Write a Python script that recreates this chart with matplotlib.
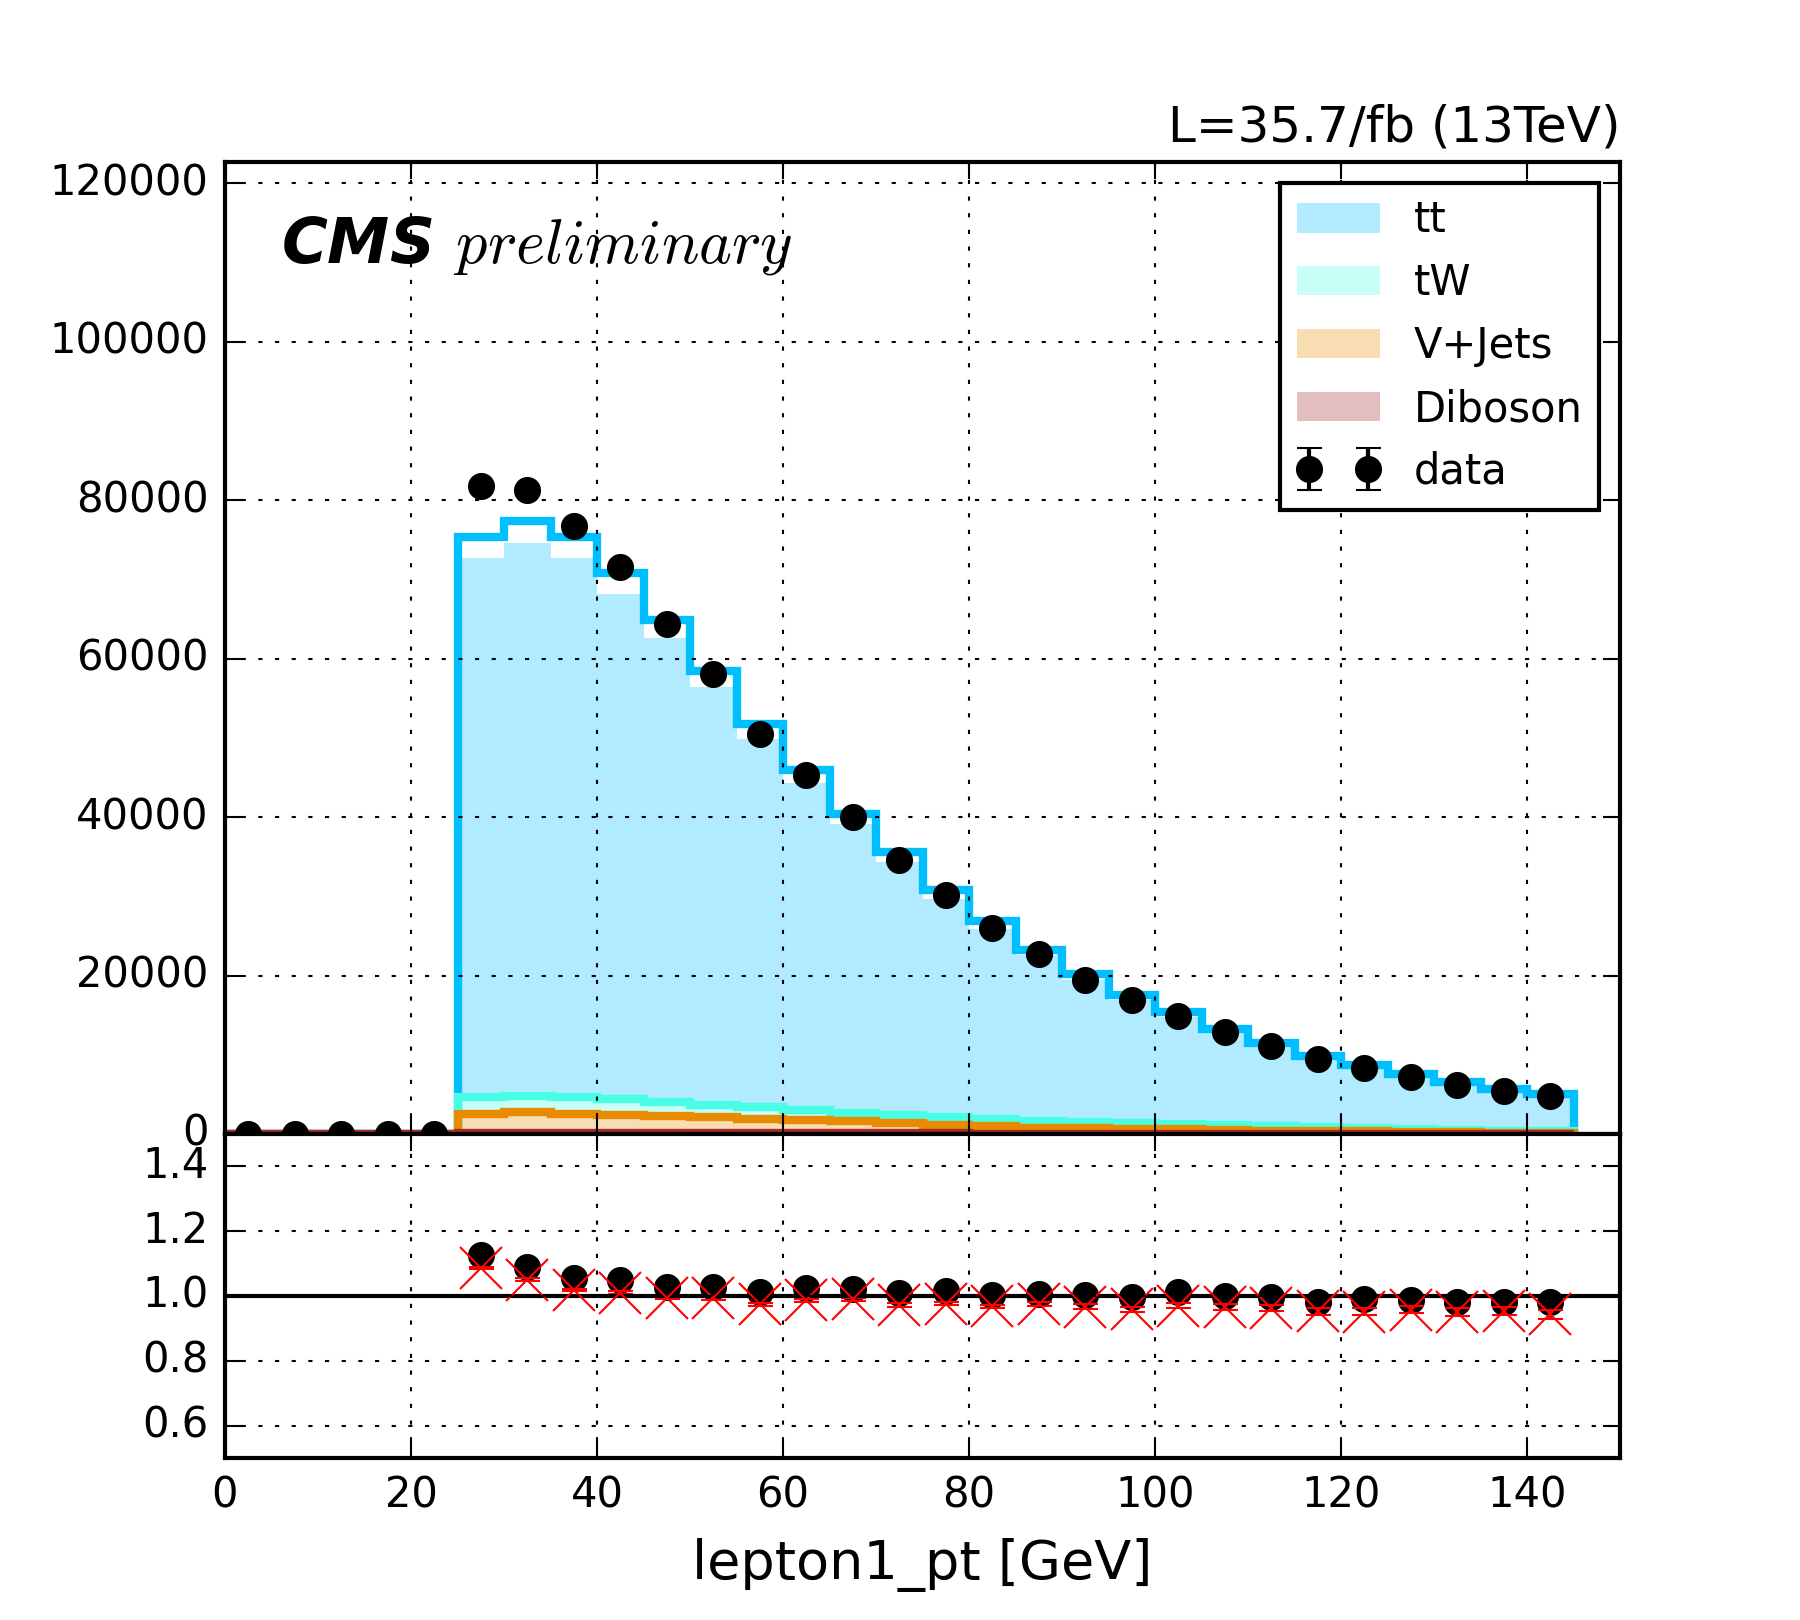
import numpy as np
import matplotlib
matplotlib.use('Agg')
import matplotlib.pyplot as plt

plt.style.use('classic')
plt.rcParams['figure.facecolor'] = 'white'
plt.rcParams['savefig.facecolor'] = 'white'

# binning of lepton1_pt [GeV]
bin_edges = np.arange(0, 150, 5)

data = [0, 0, 0, 0, 0,
        81800, 81300, 76800, 71560, 64430, 58040, 50470, 45380, 40000, 34620,
        30110, 26040, 22690, 19490, 16870, 14900, 12850, 11100, 9430, 8280,
        7230, 6230, 5450, 4790]
tt = [0, 0, 0, 0, 0,
      68050, 69790, 68010, 63710, 58600, 52690, 46550, 41200, 36460, 31950,
      27570, 24080, 20940, 17950, 15570, 13500, 11740, 10190, 8740, 7640,
      6730, 5830, 5120, 4490]
tw = [0, 0, 0, 0, 0,
      2130, 2130, 2130, 2010, 1750, 1620, 1420, 1280, 1050, 1000,
      950, 900, 790, 730, 680, 640, 600, 520, 460, 390,
      340, 300, 260, 230]
vjets = [0, 0, 0, 0, 0,
         2370, 2570, 2370, 2290, 2170, 1970, 1840, 1690, 1530, 1320,
         1080, 890, 765, 680, 645, 560, 475, 400, 372, 315,
         238, 190, 152, 144]
diboson = [0, 0, 0, 0, 0,
           150, 160, 150, 140, 130, 120, 110, 100, 90, 80,
           70, 60, 55, 50, 45, 40, 35, 30, 28, 25,
           22, 20, 18, 16]
# total MC outline as drawn (slightly above the filled stack)
mc_total = [0, 0, 0, 0, 0,
            75340, 77380, 75340, 70800, 64870, 58470, 51780, 45960, 40400, 35600,
            30840, 26910, 23270, 20150, 17600, 15360, 13310, 11520, 9900, 8700,
            7550, 6550, 5720, 5080]

labels = ['tt', 'tW', 'V+Jets', 'Diboson']
colors = ['#00BFFF', '#48FFE6', '#E98B00', '#A52A2A']

data = np.array(data, dtype=float)
centers = 0.5 * (bin_edges[1:] + bin_edges[:-1])

s_dib = np.array(diboson, dtype=float)
s_vj = s_dib + np.array(vjets)
s_tw = s_vj + np.array(tw)
s_tt = s_tw + np.array(tt)
line_tot = np.array(mc_total, dtype=float)

fig = plt.figure(figsize=(6, 5.4), dpi=300)
gs = fig.add_gridspec(2, 1, height_ratios=[3, 1], hspace=0,
                      left=0.125, right=0.9, top=0.9, bottom=0.1)
ax = fig.add_subplot(gs[0])
ax2 = fig.add_subplot(gs[1], sharex=ax)

# filled stack
h_tt = ax.stairs(s_tt, bin_edges, baseline=s_tw, fill=True, color=colors[0], alpha=0.3, lw=0, label=labels[0])
h_tw = ax.stairs(s_tw, bin_edges, baseline=s_vj, fill=True, color=colors[1], alpha=0.3, lw=0, label=labels[1])
h_vj = ax.stairs(s_vj, bin_edges, baseline=s_dib, fill=True, color=colors[2], alpha=0.3, lw=0, label=labels[2])
h_db = ax.stairs(s_dib, bin_edges, baseline=0, fill=True, color=colors[3], alpha=0.3, lw=0, label=labels[3])

# outlines
for vals, c in zip([line_tot, s_tw, s_vj, s_dib], colors):
    ax.stairs(vals, bin_edges, baseline=0, color=c, lw=2)

h_data = ax.errorbar(centers, data, yerr=np.sqrt(data), fmt='ko', markersize=6, label='data')

ax.set_xlim(0, 150)
ax.set_ylim(0, 1.5 * data.max())
ax.set_yticks(np.arange(0, 120001, 20000))
ax.grid(True)
plt.setp(ax.get_xticklabels(), visible=False)
ax.tick_params(labelsize=10)

ax.legend([h_tt, h_tw, h_vj, h_db, h_data], labels + ['data'],
          loc='upper right', fontsize=10)
ax.set_title('L=35.7/fb (13TeV)', loc='right', fontsize=12)
ax.text(0.04, 0.897, 'CMS $preliminary$', transform=ax.transAxes,
        fontsize=15, fontweight='bold', style='italic', va='baseline')

# ratio panel
with np.errstate(divide='ignore', invalid='ignore'):
    r_fill = np.where(s_tt > 0, data / s_tt, np.nan)
    r_line = np.where(line_tot > 0, data / line_tot, np.nan)
    r_err = np.where(line_tot > 0, np.sqrt(data) / line_tot, np.nan)

ax2.plot(centers, r_fill, 'ko', markersize=6)
ax2.errorbar(centers, r_line, yerr=r_err, fmt='rx', ecolor='r', markersize=10)
ax2.axhline(1.0, color='k', lw=1)
ax2.set_ylim(0.5, 1.5)
ax2.set_yticks([0.6, 0.8, 1.0, 1.2, 1.4])
ax2.set_xticks(np.arange(0, 141, 20))
ax2.grid(True)
ax2.tick_params(labelsize=10)
ax2.set_xlabel('lepton1_pt [GeV]', fontsize=13)

fig.savefig('out.png', dpi=300)
